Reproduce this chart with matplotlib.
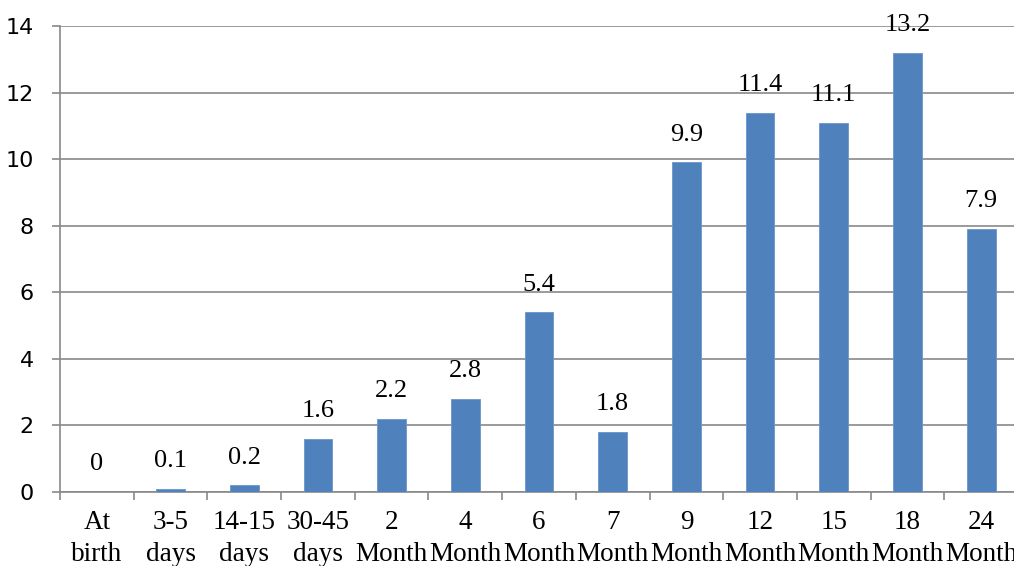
import matplotlib.pyplot as plt
import numpy as np

categories = ["At\nbirth", "3-5\ndays", "14-15\ndays", "30-45\ndays",
              "2\nMonth", "4\nMonth", "6\nMonth", "7\nMonth", "9\nMonth",
              "12\nMonth", "15\nMonth", "18\nMonth", "24\nMonth"]
values = [0, 0.1, 0.2, 1.6, 2.2, 2.8, 5.4, 1.8, 9.9, 11.4, 11.1, 13.2, 7.9]
value_labels = ["0", "0.1", "0.2", "1.6", "2.2", "2.8", "5.4", "1.8", "9.9",
                "11.4", "11.1", "13.2", "7.9"]

W, H = 1014, 566
fig = plt.figure(figsize=(W / 100, H / 100), dpi=100)
# plot area: left spine at x=60, y=0 at 492, y=14 at 26, category width ~73.7 px
ax = fig.add_axes([60 / W, (H - 492) / H, 958 / W, 466 / H])

grid_col = "#898989"
x = np.arange(len(categories))
ax.bar(x, values, width=0.39, color="#4F81BD", edgecolor="#6A94C8",
       linewidth=0.6, zorder=3)

ax.set_xlim(-0.5, len(categories) - 0.5)
ax.set_ylim(0, 14)
ax.set_yticks(range(0, 15, 2))
ax.yaxis.grid(True, color=grid_col, linewidth=1.2, zorder=0)

for s in ["top", "right"]:
    ax.spines[s].set_visible(False)
for s in ["left", "bottom"]:
    ax.spines[s].set_color(grid_col)
    ax.spines[s].set_linewidth(1.2)

ax.tick_params(axis="y", length=6, width=1.2, color=grid_col, pad=13,
               labelsize=16)
for lab in ax.get_yticklabels():
    lab.set_family("DejaVu Sans")

# category labels centred, tick marks on category boundaries
ax.set_xticks(x)
ax.set_xticklabels(categories, family="Liberation Serif", fontsize=19.5,
                   linespacing=1.38)
ax.tick_params(axis="x", which="major", length=0, pad=13)
ax.set_xticks(np.arange(-0.5, len(categories), 1), minor=True)
ax.tick_params(axis="x", which="minor", length=6, width=1.2, color=grid_col)

for xi, v, t in zip(x, values, value_labels):
    ax.annotate(t, (xi, v), xytext=(0, 12), textcoords="offset points",
                ha="center", va="bottom", family="Liberation Serif",
                fontsize=19, clip_on=False, zorder=4)

fig.savefig("out.png", dpi=100)
